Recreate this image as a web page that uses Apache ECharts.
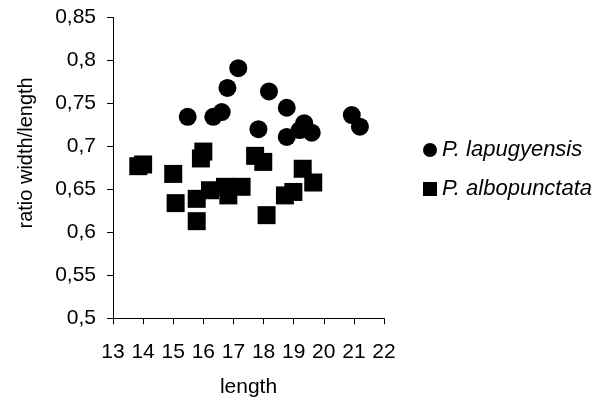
<!DOCTYPE html>
<html>
<head>
<meta charset="utf-8">
<script src="https://cdn.jsdelivr.net/npm/echarts@6/dist/echarts.min.js"></script>
<style>
  html, body { margin: 0; padding: 0; background: #fff; }
  #chart { width: 612px; height: 405px; }
</style>
</head>
<body>
<div id="chart"></div>
<script>
// P. lapugyensis (circles)
const lapugX = [15.48, 16.33, 16.61, 16.8, 17.16, 18.18, 18.77, 17.83, 18.77, 19.2, 19.35, 19.6, 20.93, 21.2];
const lapugY = [0.7345, 0.7345, 0.74, 0.768, 0.791, 0.764, 0.745, 0.72, 0.711, 0.719, 0.727, 0.716, 0.7365, 0.723];
// P. albopunctata (squares)
const alboX = [13.84, 14.0, 15.0, 15.08, 15.92, 16.0, 15.78, 15.78, 16.22, 16.72, 16.83, 17.27, 17.72, 17.99, 18.1, 18.71, 18.99, 19.3, 19.65];
const alboY = [0.677, 0.679, 0.668, 0.634, 0.686, 0.694, 0.639, 0.613, 0.649, 0.653, 0.643, 0.653, 0.689, 0.682, 0.62, 0.643, 0.647, 0.674, 0.658];

const seriesNames = ['P. lapugyensis', 'P. albopunctata'];
const xTicks = [13, 14, 15, 16, 17, 18, 19, 20, 21, 22];
const yTicks = ['0,5', '0,55', '0,6', '0,65', '0,7', '0,75', '0,8', '0,85'];

const font = 'Liberation Sans';
const chart = echarts.init(document.getElementById('chart'));

chart.setOption({
  animation: false,
  grid: { left: 113, right: 228, top: 17.5, bottom: 86.7 },
  legend: {
    orient: 'vertical',
    left: 418,
    top: 134,
    itemWidth: 14,
    itemHeight: 14,
    itemGap: 17,
    textStyle: { fontFamily: font, fontSize: 22, fontStyle: 'italic', color: '#000' },
    data: [
      { name: seriesNames[0], icon: 'circle' },
      { name: seriesNames[1], icon: 'rect' }
    ]
  },
  xAxis: {
    type: 'value',
    min: xTicks[0],
    max: xTicks[xTicks.length - 1],
    interval: 1,
    name: 'length',
    nameLocation: 'middle',
    nameGap: 58,
    nameTextStyle: { fontFamily: font, fontSize: 21, color: '#000' },
    axisLine: { show: true, lineStyle: { color: '#000', width: 1 } },
    axisTick: { show: true, length: 6, lineStyle: { color: '#000' } },
    axisLabel: { fontFamily: font, fontSize: 21, color: '#000', margin: 23 },
    splitLine: { show: false }
  },
  yAxis: {
    type: 'value',
    min: 0.5,
    max: 0.85,
    interval: 0.05,
    name: 'ratio width/length',
    nameLocation: 'middle',
    nameGap: 77,
    nameTextStyle: { fontFamily: font, fontSize: 20, color: '#000', padding: [0, 0, 0, 30] },
    axisLine: { show: true, lineStyle: { color: '#000', width: 1 } },
    axisTick: { show: true, length: 6, lineStyle: { color: '#000' } },
    axisLabel: {
      fontFamily: font, fontSize: 21, color: '#000', margin: 17,
      formatter(v) { return yTicks[Math.round((v - 0.5) / 0.05)]; }
    },
    splitLine: { show: false }
  },
  series: [
    {
      name: seriesNames[0],
      type: 'scatter',
      symbol: 'circle',
      symbolSize: 18,
      itemStyle: { color: '#000', opacity: 1 },
      data: lapugX.map((x, i) => [x, lapugY[i]])
    },
    {
      name: seriesNames[1],
      type: 'scatter',
      symbol: 'rect',
      symbolSize: 18,
      itemStyle: { color: '#000', opacity: 1 },
      data: alboX.map((x, i) => [x, alboY[i]])
    }
  ]
});
</script>
</body>
</html>
